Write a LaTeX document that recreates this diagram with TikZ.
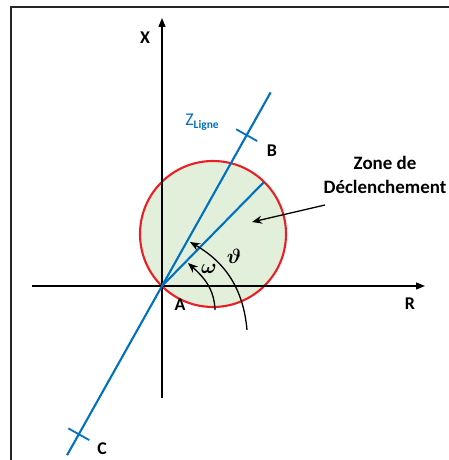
\documentclass[tikz,border=0pt]{standalone}
\usepackage{amsmath}
\usepackage{fontspec}
\setmainfont{Carlito}
\usetikzlibrary{arrows.meta}
\definecolor{ligneblue}{RGB}{0,112,192}
\definecolor{zonered}{RGB}{235,30,35}
\definecolor{zonegreen}{RGB}{226,239,218}

\begin{document}
\begin{tikzpicture}[x=1bp, y=1bp,
  lbl/.style={font=\fontsize{18}{23}\selectfont\bfseries, inner sep=0pt},
  axe/.style={line width=1.3bp, -{Triangle[length=9bp, width=7bp]}},
  ligne/.style={line width=2.1bp, ligneblue},
  tick/.style={line width=1.8bp, ligneblue},
  fl/.style={line width=1.3bp, -{Stealth[length=10bp, width=8bp]}}]
\useasboundingbox (-162,-174) rectangle (287,286);
% cadre
\draw[line width=1.2bp, black!85] (-151,-174) -- (-151,279) -- (287,279);
% points
\coordinate (A) at (0,0);
\coordinate (M) at (51,52);
\coordinate (D) at (102,104);
\coordinate (Bt) at (60.7:173);
\coordinate (Ct) at (240.7:170);
\coordinate (Bend) at (60.7:222);
\coordinate (Cend) at (240.7:194);
% zone de declenchement
\draw[zonered, fill=zonegreen, line width=2.1bp] (M) circle[radius=73];
% axes
\coordinate (Xb) at (0,-112);
\coordinate (Xt) at (0,268);
\coordinate (Rl) at (-130,0);
\coordinate (Rr) at (263,0);
\draw[axe] (Xb) -- (Xt);
\draw[axe] (Rl) -- (Rr);
\node[lbl] (xlab) at (-17,248) {X};
\node[lbl] (rlab) at (248,-18) {R};
\node[lbl] (alab) at (18,-19) {A};
% ligne
\draw[ligne] (Cend) -- (Bend);
\draw[ligne] (A) -- (D);
\draw[tick] (Bt) ++(150.7:12) -- ++(-29.3:24);
\draw[tick] (Ct) ++(150.7:12) -- ++(-29.3:24);
\node[lbl] (blab) at (110,135) {B};
\node[lbl] (clab) at (-60,-163) {C};
\node[inner sep=0pt, text=ligneblue, font=\fontsize{18}{20}\selectfont] (zl) at (40,164)
  {Z\raisebox{-0.35ex}{\fontsize{11.5}{12}\selectfont\bfseries Ligne}};
% angles
\coordinate (w0) at (53,-24);
\coordinate (w1) at (26,23);
\coordinate (t0) at (85,-44);
\coordinate (t1) at (28,44);
\draw[fl] (w0) to[out=92, in=-42] (w1);
\draw[fl] (t0) to[out=95, in=-30] (t1);
\node[inner sep=0pt, font=\fontsize{22}{24}\selectfont] (wlab) at (47,17) {$\boldsymbol{\omega}$};
\node[inner sep=0pt, font=\fontsize{22}{24}\selectfont] (tlab) at (72,30) {$\boldsymbol{\vartheta}$};
% legende
\node[lbl, font=\fontsize{19}{24}\selectfont\bfseries, align=center] (zone) at (223,111) {Zone de\\Déclenchement};
\coordinate (zt) at (90,64);
\draw[fl] (163,81) -- (zt);
\end{tikzpicture}
\end{document}
